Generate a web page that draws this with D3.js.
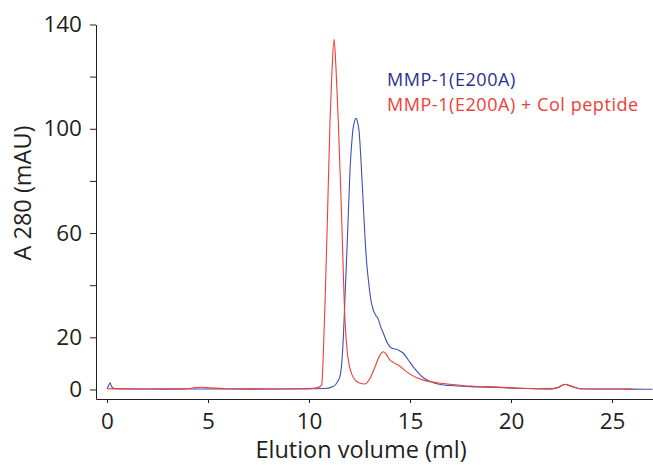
<!DOCTYPE html>
<html>
<head>
<meta charset="utf-8">
<script src="https://cdn.jsdelivr.net/npm/d3@7"></script>
<style>
  body { margin: 0; background: #fff; }
  .viz text { font-family: "Open Sans", sans-serif; fill: #231f20; }
  .axis path, .axis line { stroke: #231f20; stroke-width: 1px; }
</style>
</head>
<body>
<svg class="viz" width="653" height="465"></svg>
<script>
// Data
var volBlue = [0, 0.08, 0.15, 0.22, 0.35, 1, 3, 5, 7, 9, 10, 10.8, 11.2, 11.4, 11.53, 11.62, 11.7, 11.78, 11.87, 11.95,
  12.03, 12.12, 12.2, 12.33, 12.42, 12.48, 12.55, 12.6, 12.68, 12.77, 12.85, 12.94, 13.05, 13.18, 13.3, 13.43, 13.55,
  13.68, 13.85, 14.0, 14.15, 14.34, 14.5, 14.67, 14.9, 15.16, 15.4, 15.66, 16.0, 16.5, 17.0, 18.0, 19.0, 20.4, 21.9,
  22.3, 22.67, 23.0, 23.4, 24.5, 26, 27];
var absBlue = [0.3, 1.5, 2.6, 1.2, 0.4, 0.2, 0.15, 0.2, 0.15, 0.2, 0.25, 0.35, 1.1, 2.8, 4.9, 10, 20, 35, 52, 68,
  84, 95, 101, 104, 102, 99, 91, 84, 72, 58.6, 49, 42, 35, 30.5, 28.5, 27, 24,
  21.6, 18.3, 16.4, 15.7, 15.4, 14.8, 13.9, 11.5, 8.7, 6.5, 4.5, 3.1, 1.9, 1.5, 1.1, 0.9, 0.45, 0.25,
  0.7, 1.9, 1.2, 0.3, 0.2, 0.15, 0.1];

var volRed = [0, 0.3, 2, 3.8, 4.4, 4.7, 5.1, 6.0, 8, 9.5, 10.2, 10.5, 10.63, 10.71, 10.8, 10.91, 11.04, 11.14, 11.24,
  11.34, 11.45, 11.62, 11.78, 11.9, 12.0, 12.1, 12.3, 12.5, 12.77, 13.0, 13.27, 13.5, 13.68, 13.85, 14.01, 14.2,
  14.42, 14.7, 15.0, 15.3, 15.66, 16.0, 16.5, 17.0, 18.0, 18.7, 19.0, 20.4, 21.9, 22.3, 22.67, 23.0, 23.4, 24.5, 26];
var absRed = [0.3, 0.25, 0.2, 0.25, 0.7, 0.85, 0.6, 0.3, 0.2, 0.35, 0.5, 0.9, 1.8, 14, 35, 65, 103, 122.5, 134.3,
  122.5, 103, 65, 26.7, 13.9, 9, 6.2, 3.5, 2.5, 2.1, 4, 8.7, 13, 14.5, 13.2, 11.3, 10.3,
  9.4, 7.6, 5.9, 4.6, 3.6, 3.0, 2.4, 2.0, 1.3, 1.0, 1.0, 0.5, 0.25, 0.7, 2.0, 1.2, 0.3, 0.2, 0.15];

var xTicks = [0, 5, 10, 15, 20, 25];
var yTicks = [0, 20, 40, 60, 80, 100, 120, 140];
var yLabelled = [0, 20, 60, 100, 140];

var seriesNames = ["MMP-1(E200A)", "MMP-1(E200A) + Col peptide"];
var seriesColors = ["#3f4fb5", "#ef3e36"];
var labelColors = ["#2b2f8f", "#ef3e36"];

var svg = d3.select(".viz");

var x = d3.scaleLinear()
  .domain([-0.545, 27.03])
  .range([96, 653]);

var y = d3.scaleLinear()
  .domain([-3.65, 140])
  .range([399, 24.5]);

// axes
svg.append("g")
  .attr("class", "axis axis--x")
  .attr("transform", "translate(0,399)")
  .call(d3.axisBottom(x).tickValues(xTicks).tickSize(4).tickSizeOuter(0).tickPadding(10))
  .selectAll("text")
    .attr("font-size", "22.5px");

svg.append("g")
  .attr("class", "axis axis--y")
  .attr("transform", "translate(96,0)")
  .call(d3.axisLeft(y).tickValues(yTicks).tickSize(6).tickSizeOuter(0).tickPadding(8)
    .tickFormat(function(d) { return yLabelled.indexOf(d) >= 0 ? d : ""; }))
  .selectAll("text")
    .attr("font-size", "22.5px");

svg.selectAll(".axis text").style("fill", "#231f20");

// curves
var line = d3.line()
  .x(function(d) { return x(d[0]); })
  .y(function(d) { return y(d[1]); })
  .curve(d3.curveMonotoneX);

var blueData = volBlue.map(function(v, i) { return [v, absBlue[i]]; });
var redData = volRed.map(function(v, i) { return [v, absRed[i]]; });

svg.append("path")
  .datum(blueData)
  .attr("fill", "none")
  .attr("stroke", seriesColors[0])
  .attr("stroke-width", 1.1)
  .attr("d", line);

svg.append("path")
  .datum(redData)
  .attr("fill", "none")
  .attr("stroke", seriesColors[1])
  .attr("stroke-width", 1.1)
  .attr("d", line);

// legend text
svg.selectAll(".legend")
  .data(seriesNames)
  .enter().append("text")
    .attr("class", "legend")
    .attr("x", 387)
    .attr("y", function(d, i) { return 85.5 + i * 25; })
    .attr("font-size", "18px")
    .attr("letter-spacing", "0.55px")
    .style("fill", function(d, i) { return labelColors[i]; })
    .text(function(d) { return d; });

// axis titles
svg.append("text")
  .attr("x", 361)
  .attr("y", 458)
  .attr("text-anchor", "middle")
  .attr("font-size", "23.5px")
  .text("Elution volume (ml)");

svg.append("text")
  .attr("transform", "translate(31,193) rotate(-90)")
  .attr("text-anchor", "middle")
  .attr("font-size", "23.5px")
  .text("A 280 (mAU)");
</script>
</body>
</html>
